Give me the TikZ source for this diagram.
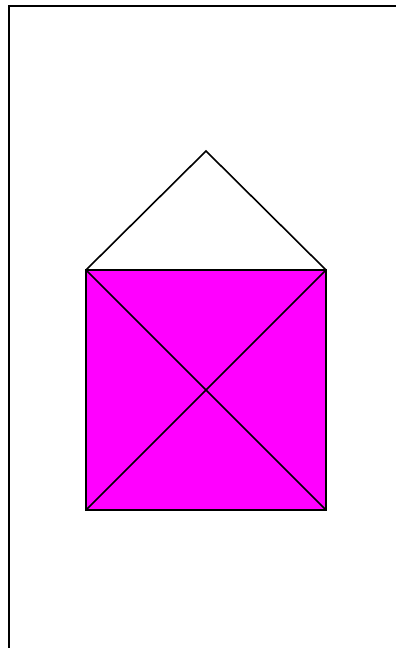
\documentclass[tikz,border=0pt]{standalone}
\usepackage{xcolor}
\definecolor{HMagenta}{HTML}{FF00FF}
\begin{document}
\begin{tikzpicture}[
  x=1pt,y=-1pt,
  edge/.style={line width=1.6pt,color=black,line join=miter},
  wall/.style={edge,fill=HMagenta}
]
  \useasboundingbox (0,0) rectangle (396,648);
  % frame
  \draw[edge,line width=2pt] (8.5,648) -- (8.5,6) -- (396,6);
  % house
  \coordinate (bl) at (86,510);
  \coordinate (br) at (326,510);
  \coordinate (tr) at (326,270);
  \coordinate (tl) at (86,270);
  \coordinate (apex) at (206,151);
  \draw[wall] (bl) -- (br) -- (tr) -- (tl) -- cycle;
  \draw[edge] (bl) -- (tr);
  \draw[edge] (tl) -- (br);
  \draw[edge] (tl) -- (apex) -- (tr);
\end{tikzpicture}
\end{document}
